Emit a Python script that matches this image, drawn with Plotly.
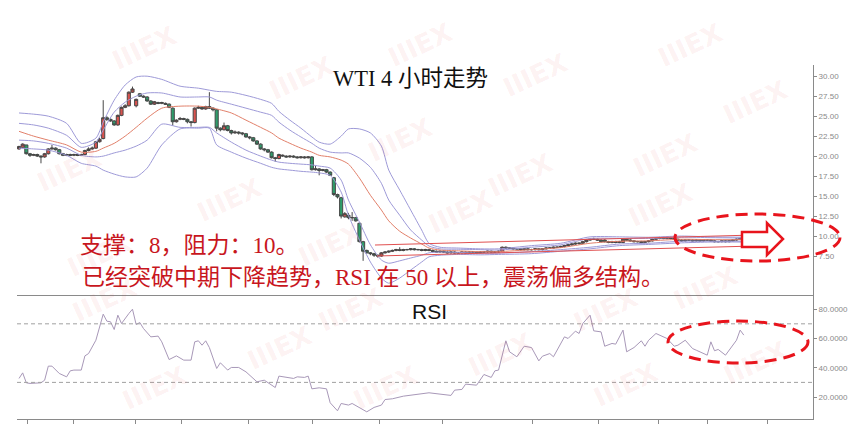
import plotly.graph_objects as go

# ---------------- data ----------------
candle_open = [20.9,21.1,21.4,20.3,20.1,20.2,20.0,19.9,20.3,20.9,
               21.0,20.8,20.3,20.1,20.2,20.1,20.2,20.1,20.2,20.7,
               20.9,21.0,21.8,22.2,24.8,24.6,24.4,23.9,25.1,26.1,
               26.3,28.0,26.3,27.8,27.5,27.4,26.9,26.5,26.7,26.6,
               26.6,26.5,26.0,24.3,24.6,24.7,24.6,24.3,24.2,26.0,
               26.1,25.9,26.2,26.0,25.8,23.5,23.3,23.8,23.2,22.9,
               23.0,22.9,22.8,22.4,22.3,21.9,21.5,20.9,20.8,20.5,
               19.8,19.7,20.0,20.0,19.9,20.0,19.9,19.8,19.9,19.8,
               19.9,18.3,18.4,18.2,18.3,18.0,17.3,15.2,14.8,12.4,
               12.6,12.3,12.3,11.6,9.3,8.2,7.9,7.8,7.6,7.5,
               7.9,8.0,8.1,8.2,8.3,8.2,8.3,8.3,8.4,8.3,
               8.3,8.2,8.3,8.2,8.1,8.0,8.1,8.0,7.9,8.0,
               7.9,7.9,8.0,7.9,8.0,8.0,7.9,8.0,8.0,8.1,
               8.0,8.0,8.1,8.6,8.5,8.5,8.4,8.4,8.3,8.4,
               8.3,8.3,8.4,8.3,8.4,8.5,8.5,8.6,8.6,8.7,
               8.8,8.9,9.0,9.1,9.1,9.3,9.5,9.6,9.6,9.5,
               9.5,9.3,9.2,9.3,9.2,9.2,9.6,9.5,9.4,9.3,
               9.3,9.2,9.3,9.4,9.6,9.7,9.8,9.7,9.8,9.7,
               9.6,9.5,9.4,9.5,9.5,9.4,9.5,9.4,9.5,9.5,
               9.4,9.3,9.3,9.4,9.3,9.4,9.5,9.6,9.7]
candle_high = [21.3,21.6,21.4,20.4,20.3,20.3,20.1,20.4,21.0,21.4,
               21.1,20.9,20.4,20.3,20.3,20.3,20.3,20.3,20.8,21.1,
               21.2,21.9,22.3,27.0,25.0,24.7,24.5,25.2,26.2,26.5,
               28.1,28.7,27.2,27.9,27.6,27.5,27.0,26.9,26.8,26.8,
               26.7,26.6,26.1,24.6,24.9,24.8,24.7,24.4,26.1,26.3,
               26.2,26.3,28.0,26.1,25.9,23.6,24.2,23.9,23.3,23.2,
               23.1,23.0,22.9,22.5,22.4,22.0,21.6,21.0,20.9,20.6,
               19.9,20.3,20.2,20.1,20.1,20.1,20.0,20.0,20.0,20.0,
               20.0,18.8,18.5,18.4,18.4,18.1,17.4,15.3,14.9,13.0,
               12.9,13.0,12.4,11.7,9.4,8.3,8.0,7.9,7.7,8.0,
               8.1,8.2,8.3,8.4,8.6,8.4,8.4,8.5,8.5,8.4,
               8.4,8.4,8.4,8.3,8.2,8.2,8.2,8.1,8.1,8.1,
               8.0,8.1,8.1,8.1,8.1,8.1,8.1,8.1,8.2,8.2,
               8.1,8.2,8.7,8.7,8.6,8.6,8.5,8.5,8.5,8.5,
               8.4,8.5,8.5,8.5,8.6,8.6,8.7,8.7,8.8,8.9,
               9.0,9.1,9.2,9.2,9.4,9.6,9.7,9.8,9.7,9.6,
               9.6,9.4,9.4,9.4,9.4,9.7,9.7,9.6,9.5,9.4,
               9.4,9.4,9.5,9.7,9.8,9.9,9.9,9.9,9.9,9.8,
               9.7,9.6,9.6,9.6,9.6,9.6,9.6,9.6,9.6,9.6,
               9.5,9.4,9.5,9.5,9.5,9.6,9.7,9.8,9.8]
candle_low = [20.8,21.0,20.2,19.9,20.0,19.9,19.1,19.8,20.2,20.8,
              20.7,20.2,20.0,20.0,20.0,20.0,20.0,20.0,20.1,20.6,
              20.8,20.9,21.7,22.1,24.4,24.3,23.8,23.8,25.0,26.0,
              26.2,27.9,26.1,27.4,27.3,26.8,26.4,26.4,26.5,26.5,
              26.4,26.0,23.8,24.2,24.5,24.5,24.1,23.7,24.1,25.9,
              25.8,25.8,25.9,25.6,23.1,23.1,23.2,23.1,22.7,22.8,
              22.7,22.6,22.3,22.1,21.8,21.4,20.8,20.6,20.4,19.7,
              19.3,19.6,19.9,19.8,19.8,19.8,19.7,19.7,19.7,19.7,
              18.2,18.2,17.6,18.1,17.9,17.5,15.0,14.7,12.2,12.3,
              12.1,11.9,11.8,9.2,6.9,7.8,7.6,7.4,7.3,7.4,
              7.8,7.9,8.0,8.1,8.1,8.1,8.2,8.2,8.2,8.2,
              8.1,8.1,8.1,8.0,7.9,7.9,7.9,7.8,7.8,7.8,
              7.8,7.8,7.8,7.8,7.9,7.8,7.8,7.9,7.9,7.9,
              7.9,7.9,8.0,8.4,8.4,8.3,8.3,8.2,8.2,8.2,
              8.2,8.2,8.2,8.2,8.3,8.4,8.4,8.5,8.5,8.6,
              8.7,8.8,8.9,8.9,9.0,9.2,9.4,9.5,9.4,9.2,
              9.2,9.1,9.1,9.1,9.1,9.1,9.4,9.3,9.2,9.2,
              9.1,9.1,9.2,9.3,9.5,9.6,9.6,9.6,9.6,9.5,
              9.4,9.3,9.3,9.4,9.3,9.3,9.3,9.3,9.4,9.3,
              9.2,9.2,9.2,9.2,9.2,9.3,9.4,9.5,9.5]
candle_close = [21.2,21.5,20.3,20.1,20.2,20.0,19.9,20.3,20.9,21.0,
                20.8,20.3,20.1,20.2,20.1,20.2,20.1,20.2,20.7,20.9,
                21.0,21.8,22.1,24.8,24.6,24.4,23.9,25.1,26.1,26.3,
                28.0,28.4,27.1,27.5,27.4,26.9,26.5,26.8,26.6,26.7,
                26.5,26.1,24.3,24.5,24.7,24.6,24.3,24.2,26.0,26.1,
                25.9,26.2,26.0,25.8,23.5,23.3,23.8,23.2,22.9,23.0,
                22.9,22.8,22.4,22.3,21.9,21.5,20.9,20.8,20.5,19.8,
                19.7,20.2,20.1,19.9,20.0,19.9,19.8,19.9,19.8,19.9,
                18.3,18.4,18.2,18.3,18.0,17.6,15.2,14.9,12.5,12.8,
                12.3,12.3,11.9,9.3,8.1,7.9,7.8,7.6,7.5,7.9,
                8.0,8.1,8.2,8.3,8.2,8.3,8.3,8.4,8.3,8.3,
                8.2,8.3,8.2,8.1,8.0,8.1,8.0,7.9,8.0,7.9,
                7.9,8.0,7.9,8.0,8.0,7.9,8.0,8.0,8.1,8.0,
                8.0,8.1,8.6,8.5,8.5,8.4,8.4,8.3,8.4,8.3,
                8.3,8.4,8.3,8.4,8.5,8.5,8.6,8.6,8.7,8.8,
                8.9,9.0,9.1,9.1,9.3,9.5,9.6,9.6,9.5,9.3,
                9.3,9.2,9.3,9.2,9.3,9.6,9.5,9.4,9.3,9.3,
                9.2,9.3,9.4,9.6,9.7,9.8,9.7,9.8,9.7,9.6,
                9.5,9.4,9.5,9.5,9.4,9.5,9.4,9.5,9.5,9.4,
                9.3,9.3,9.4,9.3,9.4,9.5,9.6,9.7,9.6]
candle_idx = list(range(len(candle_close)))

band_idx = [0,4,8,13,17,21,23,26,29,32,35,39,44,49,52,54,58,62,66,69,
            71,74,77,80,82,85,88,90,93,96,99,101,104,107,110,112,115,120,126,131,
            140,148,156,164,172,181,189,198]
band_outer_up = [25.4,25.25,25.0,24.1,21.6,22.25,24.25,27.0,28.9,29.9,
                 30.0,29.6,28.75,28.5,28.25,28.1,28.0,27.6,27.1,26.6,
                 25.6,24.5,23.5,22.4,21.75,21.5,22.5,23.4,23.4,22.9,
                 21.25,18.25,15.75,13.25,10.75,9.1,8.6,8.5,8.4,8.4,
                 8.8,9.1,9.9,9.9,9.85,10.0,9.9,9.85]
band_inner_up = [24.1,23.9,23.5,22.6,21.1,21.75,23.25,25.5,26.75,27.5,
                 27.9,27.9,27.4,27.4,27.4,27.0,26.5,26.0,25.5,25.1,
                 24.25,23.25,22.4,21.6,21.0,20.5,20.4,20.4,19.75,18.6,
                 16.6,14.5,12.6,10.75,9.5,8.75,8.4,8.35,8.3,8.25,
                 8.6,8.9,9.7,9.7,9.7,9.85,9.8,9.75]
band_mid = [23.1,22.5,22.0,21.4,20.5,20.6,21.0,21.6,22.5,23.6,
            24.75,26.0,26.25,26.25,26.1,25.9,25.4,24.5,23.6,22.9,
            22.25,21.6,21.0,20.5,20.1,19.9,19.5,19.0,17.25,15.1,
            13.25,11.9,10.6,9.75,9.0,8.5,8.25,8.15,8.05,8.05,
            8.3,8.55,9.1,9.35,9.4,9.6,9.55,9.55]
band_inner_low = [22.0,21.9,21.6,21.0,20.1,19.9,20.0,20.4,20.75,21.25,
                  22.0,24.0,23.6,23.6,23.6,22.9,21.75,20.75,20.0,19.5,
                  19.25,19.1,19.0,18.9,18.75,18.5,17.0,14.5,11.75,8.9,
                  7.0,6.6,6.9,7.25,7.6,7.9,8.0,7.95,7.85,7.85,
                  8.05,8.3,8.6,9.0,9.1,9.35,9.35,9.35]
band_outer_low = [21.0,20.9,20.75,20.1,19.1,18.75,18.25,17.75,17.4,17.4,
                  18.5,21.4,23.4,23.5,23.5,21.4,20.5,19.75,19.1,18.6,
                  18.4,18.25,18.1,18.0,17.9,17.6,15.5,12.6,9.5,6.75,
                  4.75,4.1,4.75,5.75,6.75,7.4,7.6,7.7,7.65,7.7,
                  7.8,8.1,8.4,8.8,8.95,9.15,9.25,9.25]

rsi_idx = [0,1,2,3,6,7,8,9,11,13,
           14,15,17,18,19,21,23,24,25,26,
           27,28,30,31,32,33,34,36,38,39,
           41,43,45,47,48,49,50,51,52,54,
           55,57,58,60,62,65,67,69,70,71,
           73,75,76,78,79,80,82,84,85,87,
           88,90,91,93,95,97,99,100,102,105,
           107,110,112,115,118,119,121,122,125,127,
           129,130,131,133,134,136,138,140,142,143,
           145,146,149,150,152,153,154,156,157,159,
           160,162,163,165,166,168,170,171,172,174,
           177,179,180,182,184,185,188,189,190,191,
           193,196,197,198]
rsi_val = [32.7,36.5,29.7,29.3,29.7,31.5,41.1,41.1,36.1,33.8,
           37.9,38.4,38.4,48.1,49.7,58.8,76.6,71.8,71.4,66.1,
           75.9,70.2,77.0,80.0,69.5,70.9,66.8,61.1,61.6,57.7,
           45.6,48.1,45.2,45.2,57.7,58.4,55.4,58.4,53.8,39.5,
           43.4,38.4,40.2,40.2,37.2,30.4,31.5,28.1,26.5,34.3,
           33.4,32.7,33.8,33.4,34.3,25.6,26.3,25.6,16.1,10.6,
           15.6,14.5,15.6,12.9,9.9,12.9,14.5,18.3,18.8,20.6,
           21.3,22.6,22.9,22.0,21.1,24.7,25.2,28.8,28.1,35.4,
           33.4,37.9,38.4,58.4,50.9,47.5,54.7,53.8,44.7,47.9,
           49.7,47.5,61.1,60.0,65.0,63.4,70.2,75.9,65.2,64.5,
           54.7,56.6,56.1,65.7,50.9,53.8,58.4,54.7,58.8,63.4,
           60.0,54.7,55.4,58.8,53.1,52.0,48.6,57.7,51.6,52.5,
           48.6,58.8,65.7,62.3]

price_ticks = [7.5, 10, 12.5, 15, 17.5, 20, 22.5, 25, 27.5, 30]
rsi_ticks = [20, 40, 60, 80]
rsi_levels = [30, 70]
time_ticks = [2.2, 14.75, 31.7, 44.5, 62.6, 80.3, 98.6, 115.6, 140.2, 158.2, 174.6, 188, 204.6]

title_text = "WTI 4 小时走势"
note_line1 = "支撑：8，阻力：10。"
note_line2 = "已经突破中期下降趋势，RSI 在 50 以上，震荡偏多结构。"
watermark = "<b>IIIEX</b>"

# ---------------- geometry helpers ----------------
W, H = 848, 431
L, R, T, B = 17, 35, 65, 12
PW, PH = W - L - R, H - T - B


def px(x):
    return (x - L) / PW


def py(y):
    return 1 - (y - T) / PH


split = (419 - 296) / PH
X_RANGE = [-0.55, 216.9]

PURPLE = "#9e9ad8"
MIDRED = "#e2806a"
RED = "#d9534f"
GREEN = "#2e9d6b"
DARK = "#474747"
AXIS = "#8a8a8a"
ANN_RED = "#c8161d"

fig = go.Figure()

for arr, col in [(band_outer_up, PURPLE), (band_inner_up, PURPLE), (band_mid, MIDRED),
                 (band_inner_low, PURPLE), (band_outer_low, PURPLE)]:
    fig.add_trace(go.Scatter(x=band_idx, y=arr, mode="lines",
                             line=dict(color=col, width=1, shape="spline", smoothing=0.7),
                             xaxis="x", yaxis="y", hoverinfo="skip", showlegend=False))

fig.add_trace(go.Candlestick(x=candle_idx, open=candle_open, high=candle_high,
                             low=candle_low, close=candle_close,
                             increasing=dict(fillcolor=RED, line=dict(color=DARK, width=1)),
                             decreasing=dict(fillcolor=GREEN, line=dict(color=DARK, width=1)),
                             whiskerwidth=0, xaxis="x", yaxis="y", showlegend=False))

fig.add_trace(go.Scatter(x=rsi_idx, y=rsi_val, mode="lines",
                         line=dict(color="#a898b8", width=1),
                         xaxis="x2", yaxis="y2", hoverinfo="skip", showlegend=False))

shapes = []
for lv in rsi_levels:
    shapes.append(dict(type="line", xref="paper", x0=0, x1=1, yref="y2", y0=lv, y1=lv,
                       line=dict(color="#a0a0a0", width=1, dash="4px,3px")))
# consolidation channel
shapes.append(dict(type="line", xref="paper", yref="paper", x0=px(375), y0=py(245), x1=px(755), y1=py(235),
                   line=dict(color="#e05050", width=1)))
shapes.append(dict(type="line", xref="paper", yref="paper", x0=px(377), y0=py(256), x1=px(755), y1=py(246),
                   line=dict(color="#e05050", width=1)))
# ellipses
shapes.append(dict(type="circle", xref="paper", yref="paper", x0=px(675), x1=px(840), y0=py(214), y1=py(261),
                   line=dict(color="#e8141c", width=3, dash="12px,7px")))
shapes.append(dict(type="circle", xref="paper", yref="paper", x0=px(668), x1=px(808), y0=py(321), y1=py(363),
                   line=dict(color="#e8141c", width=3, dash="12px,7px")))
# arrow
pts = [(742, 232), (767, 232), (767, 223), (783, 239), (767, 255), (767, 247), (742, 247)]
path = "M " + " L ".join(f"{px(a):.5f},{py(b):.5f}" for a, b in pts) + " Z"
shapes.append(dict(type="path", xref="paper", yref="paper", path=path, fillcolor="white",
                   line=dict(color="#e8141c", width=2.5)))

annotations = []
wm_pos = [(105, 18), (262, 48), (420, 15), (575, 45), (730, 15),
          (30, 140), (190, 170), (400, 110), (560, 145), (705, 125), (795, 72),
          (60, 255), (330, 245), (460, 212), (700, 205),
          (65, 330), (240, 378), (350, 340), (500, 385), (645, 340), (745, 318), (795, 393),
          (115, 418), (385, 418), (665, 415)]
for (a, b) in wm_pos:
    annotations.append(dict(xref="paper", yref="paper", x=px(a), y=py(b), text=watermark,
                            showarrow=False, textangle=-25,
                            font=dict(family="DejaVu Sans", size=26, color="rgba(225,70,70,0.08)")))

annotations.append(dict(xref="paper", yref="paper", x=px(410), y=py(78), text=title_text, showarrow=False,
                        xanchor="center", yanchor="middle",
                        font=dict(family="Liberation Serif, Noto Sans CJK SC", size=22.5, color="#111")))
annotations.append(dict(xref="paper", yref="paper", x=px(78), y=py(245), text=note_line1, showarrow=False,
                        xanchor="left", yanchor="middle",
                        font=dict(family="Liberation Serif, Noto Sans CJK SC", size=23, color=ANN_RED)))
annotations.append(dict(xref="paper", yref="paper", x=px(80), y=py(277), text=note_line2, showarrow=False,
                        xanchor="left", yanchor="middle",
                        font=dict(family="Liberation Serif, Noto Sans CJK SC", size=23, color=ANN_RED)))
annotations.append(dict(xref="paper", yref="paper", x=px(429), y=py(311), text="RSI", showarrow=False,
                        xanchor="center", yanchor="middle",
                        font=dict(family="Liberation Sans, Arial", size=21, color="#111")))

fig.update_layout(
    width=W, height=H,
    margin=dict(l=L, r=R, t=T, b=B, autoexpand=False),
    paper_bgcolor="white", plot_bgcolor="white",
    showlegend=False,
    boxgap=0.15, boxgroupgap=0,
    xaxis=dict(domain=[0, 1], range=X_RANGE, anchor="y", visible=False,
               rangeslider=dict(visible=False), showgrid=False, automargin=False),
    xaxis2=dict(domain=[0, 1], range=X_RANGE, anchor="y2", showline=True, linecolor=AXIS,
                linewidth=1, mirror=True, ticks="outside", ticklen=4, tickcolor=AXIS,
                tickvals=time_ticks, showticklabels=False, showgrid=False, zeroline=False,
                automargin=False),
    yaxis=dict(domain=[split, 1], range=[2.5, 31.4], anchor="x", side="right",
               showline=True, linecolor=AXIS, linewidth=1, ticks="outside", ticklen=3,
               tickcolor=AXIS, tickvals=price_ticks, tickformat=".2f",
               tickfont=dict(family="Liberation Sans, Arial", size=8, color="#8a8a8a"),
               showgrid=False, zeroline=False, automargin=False),
    yaxis2=dict(domain=[0, split], range=[5, 89], anchor="x2", side="right",
                showline=True, linecolor=AXIS, linewidth=1, ticks="outside", ticklen=3,
                tickcolor=AXIS, tickvals=rsi_ticks, tickformat=".4f",
                tickfont=dict(family="Liberation Sans, Arial", size=8, color="#8a8a8a"),
                showgrid=False, zeroline=False, automargin=False),
    shapes=shapes,
    annotations=annotations,
)

fig.write_html("out.html",
               config={"displayModeBar": False},
               post_script="document.body.style.margin='0';document.body.style.padding='0';"
                           "document.body.style.overflow='hidden';")
